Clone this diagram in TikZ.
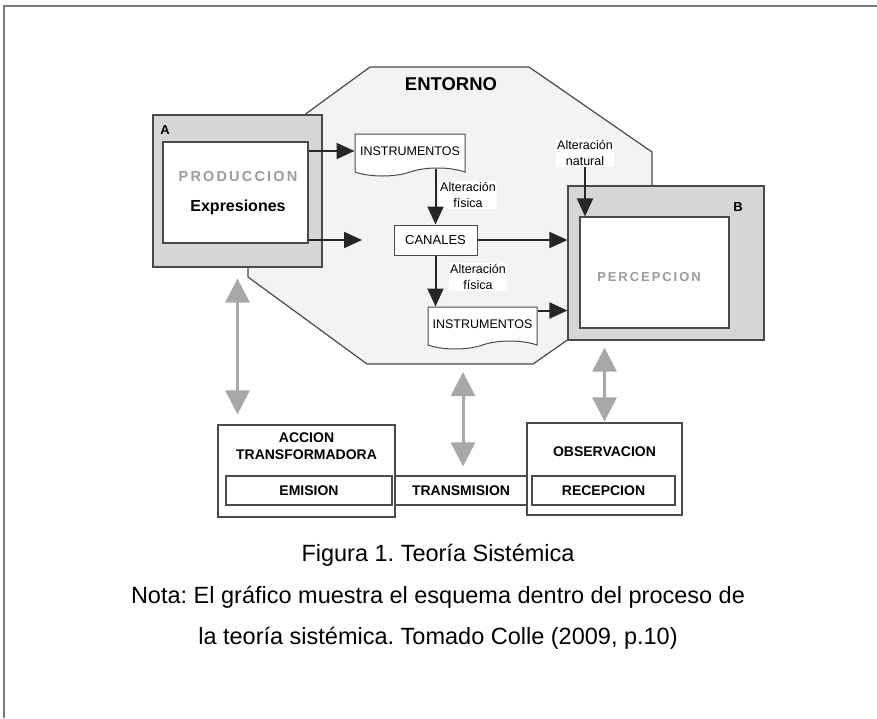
\documentclass[tikz,border=0pt]{standalone}
\usepackage{fontspec}
\setmainfont{Liberation Sans}
\newfontfamily\spacedfont[LetterSpace=15]{Liberation Sans}
\usepackage{tikz}
\usetikzlibrary{arrows.meta,shapes,positioning}
\frenchspacing
\definecolor{frameline}{HTML}{7A7A7A}
\definecolor{envfill}{HTML}{F3F3F3}
\definecolor{boxfill}{HTML}{D6D6D6}
\definecolor{edge}{HTML}{4A4A4A}
\definecolor{lightarrow}{HTML}{A8A8A8}
\definecolor{ghost}{HTML}{9C9C9C}
\tikzstyle{block} =
  [rectangle, draw=edge, line width=1.2pt, fill=white, inner sep=0pt]
\tikzstyle{frame} = [block, fill=boxfill]
\tikzstyle{doc} =
  [tape, tape bend top=none, tape bend height=8pt, draw=edge, line width=1pt,
   fill=white, minimum width=110pt, minimum height=42pt, inner sep=0pt,
   font=\fontsize{12.5}{13}\selectfont]
\tikzstyle{note} =
  [font=\fontsize{12.5}{16}\selectfont, align=center, fill=white, inner sep=1pt]
\tikzstyle{label} = [font=\bfseries\fontsize{14}{17}\selectfont, align=center]
\tikzstyle{caption} = [font=\fontsize{23.5}{26}\selectfont]
\tikzstyle{arrow} =
  [draw, -{Triangle[length=18pt,width=16pt]}, line width=2pt, black!85]
\tikzstyle{twoway} =
  [draw, {Triangle[length=24pt,width=24pt]}-{Triangle[length=24pt,width=24pt]},
   line width=3pt, lightarrow]

\begin{document}
\begin{tikzpicture}[x=1pt, y=-1pt]
  \useasboundingbox (0,0) rectangle (877,718);
  \draw [frameline, line width=1.5pt] (4,718) -- (4,6) -- (877,6);

  % entorno
  \draw [edge, line width=1.2pt, fill=envfill]
    (370,67) -- (529,67) -- (652,152) -- (652,281) -- (533,364)
    -- (367,364) -- (248,277) -- (248,156) -- cycle;
  \node [font=\bfseries\fontsize{18.5}{19}\selectfont] (entorno) at (451,84) {ENTORNO};

  % A
  \node [frame, minimum width=169pt, minimum height=152pt] (a) at (237.5,191) {};
  \node [block, minimum width=145pt, minimum height=101pt] (prod) at (235.5,192.5) {};
  \node [font=\bfseries\fontsize{13}{13}\selectfont] (alabel) at (165,130) {A};
  \node [font=\spacedfont\bfseries\fontsize{14.5}{15}\selectfont, text=ghost]
    (prodtext) at (238,177) {PRODUCCION};
  \node [font=\bfseries\fontsize{16}{16}\selectfont, below of=prodtext,
    node distance=30pt] (expr) {Expresiones};

  % B
  \node [frame, minimum width=196pt, minimum height=154pt] (b) at (666,263) {};
  \node [block, minimum width=149pt, minimum height=111pt] (perc) at (654.5,272.5) {};
  \node [font=\bfseries\fontsize{13}{13}\selectfont] (blabel) at (738,207) {B};
  \node [font=\spacedfont\bfseries\fontsize{13}{14}\selectfont, text=ghost]
    (perctext) at (649,277) {PERCEPCION};

  % instrumentos y canales
  \node [doc] (ins1) at (410,151) {INSTRUMENTOS};
  \node [block, line width=1pt, minimum width=83pt, minimum height=30pt,
    font=\fontsize{13}{13}\selectfont] (can) at (435.5,240) {CANALES};
  \node [doc, minimum width=109pt] (ins2) at (482.5,324) {INSTRUMENTOS};
  \node [note] (fis1) at (468,195) {Alteración\\física};
  \node [note] (fis2) at (478,277) {Alteración\\física};
  \node [note] (nat) at (585,153) {Alteración\\natural};

  \coordinate (gap) at (362,240);
  \draw [arrow] (ins1.west -| prod.east) -- (ins1.west);
  \draw [arrow] (gap -| prod.east) -- (gap);
  \draw [arrow] (can.north |- ins1.south) -- (can.north);
  \draw [arrow] (can.east) -- (can.east -| b.west);
  \draw [arrow] (can.south) -- (can.south |- ins2.north);
  \draw [arrow] ([yshift=-4pt]ins2.north east) -- ([yshift=-4pt]ins2.north east -| b.west);
  \draw [arrow] (nat.south) -- (nat.south |- perc.north);

  % abajo
  \node [block, minimum width=177pt, minimum height=92pt] (acc) at (306.5,471) {};
  \node [label, below=5pt of acc.north] (acctext) {ACCION\\TRANSFORMADORA};
  \node [block, minimum width=166pt, minimum height=29pt, label] (emi) at (309,490.5) {EMISION};
  \node [block, minimum width=132pt, minimum height=29pt, label, right of=emi,
    node distance=152pt] (tra) {TRANSMISION};
  \node [block, minimum width=155pt, minimum height=92pt] (obs) at (604.5,469) {};
  \node [label, below=21pt of obs.north] (obstext) {OBSERVACION};
  \node [block, minimum width=143pt, minimum height=29pt, label] (rec) at (603.5,490.5) {RECEPCION};

  \coordinate (envb) at (463,364);
  \draw [twoway, shorten <=11pt, shorten >=10pt] (a.south) -- (a.south |- acc.north);
  \draw [twoway, shorten <=8pt, shorten >=9pt] (envb) -- (envb |- tra.north);
  \draw [twoway, shorten <=7pt, shorten >=1pt] (obs.north |- b.south) -- (obs.north);

  % texto
  \node [caption] (cap1) at (438,555) {Figura 1. Teoría Sistémica};
  \node [caption, below of=cap1, node distance=42pt] (cap2)
    {Nota: El gráfico muestra el esquema dentro del proceso de};
  \node [caption, below of=cap2, node distance=41pt] (cap3)
    {la teoría sistémica. Tomado Colle (2009, p.10)};
\end{tikzpicture}
\end{document}
